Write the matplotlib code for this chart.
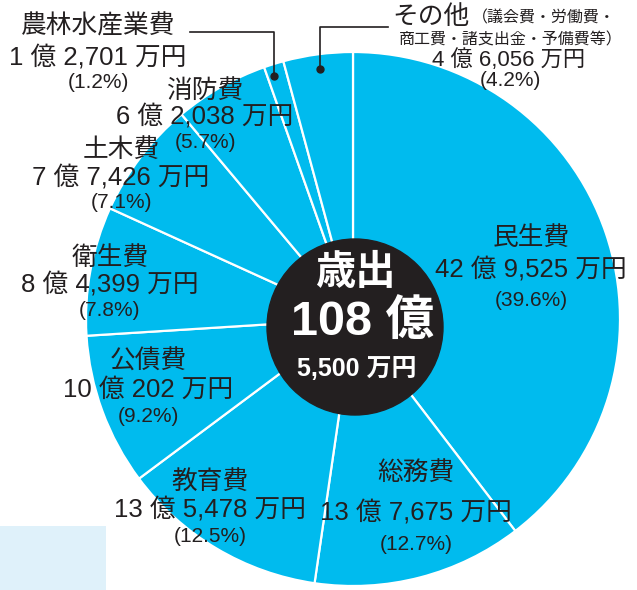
import matplotlib
matplotlib.use("Agg")
import matplotlib.pyplot as plt
from matplotlib.patches import Circle, Rectangle
from matplotlib import font_manager as fm

# ---- data -------------------------------------------------------------
categories = ["民生費", "総務費", "教育費", "公債費", "衛生費",
              "土木費", "消防費", "農林水産業費", "その他"]
oku = [42, 13, 13, 10, 8, 7, 6, 1, 4]
man = [9525, 7675, 5478, 202, 4399, 7426, 2038, 2701, 6056]
pct = [39.6, 12.7, 12.5, 9.2, 7.8, 7.1, 5.7, 1.2, 4.2]
total_oku, total_man = 108, 5500
other_note = ["（議会費・労働費・", "商工費・諸支出金・予備費等）"]

# ---- style ------------------------------------------------------------
W, H = 637, 590
BLUE = "#00bbee"
DARK = "#231f20"
TXT = "#231f20"
PALE = "#dff1fa"

names = {f.name for f in fm.fontManager.ttflist}
NUM = "Liberation Sans Narrow" if "Liberation Sans Narrow" in names else "Liberation Sans"
JP = "Noto Sans CJK JP"
plt.rcParams["font.family"] = [JP, "DejaVu Sans"]

# label layout (image pixel coords: x, y of title, amount, percent)
LAYOUT = {
    "民生費": (531, 238, 270, 301),
    "総務費": (416, 473, 513, 545),
    "教育費": (210, 482, 510, 537),
    "公債費": (148, 362, 390, 416),
    "衛生費": (110, 258, 285, 311),
    "土木費": (121, 150, 178, 203),
    "消防費": (205, 91, 117, 142),
    "農林水産業費": (98, 26, 58, 82),
}


def Y(y):
    return H - y


def amount(o, m):
    return f"{o} 億 {m:,} 万円"


fig = plt.figure(figsize=(W / 100, H / 100), dpi=100)
ax = fig.add_axes([0, 0, 1, 1])

cx, cy, R = 353, Y(319), 267
ax.pie(pct, startangle=90, counterclock=False, colors=[BLUE] * len(pct),
       center=(cx, cy), radius=R,
       wedgeprops=dict(edgecolor="white", linewidth=1.6))

ax.add_patch(Circle((355, Y(327)), 88, color=DARK, zorder=3))
ax.add_patch(Rectangle((0, 0), 106, Y(526), color=PALE, lw=0, zorder=0))

ax.set_xlim(0, W)
ax.set_ylim(0, H)
ax.set_aspect("equal")
ax.axis("off")

# category labels
for cat, o, m, p in zip(categories, oku, man, pct):
    if cat not in LAYOUT:
        continue
    x, yt, ya, yp = LAYOUT[cat]
    ax.text(x, Y(yt), cat, ha="center", va="center", fontsize=18.5,
            color=TXT, zorder=5)
    ax.text(x, Y(ya), amount(o, m), ha="center", va="center", fontsize=18.5,
            family=[NUM, JP], color=TXT, zorder=5)
    ax.text(x, Y(yp), f"({p}%)", ha="center", va="center", fontsize=15,
            family=[NUM, JP], color=TXT, zorder=5)

# その他 block
i = categories.index("その他")
ax.text(431, Y(17), "その他", ha="center", va="center", fontsize=18.5, color=TXT)
ax.text(472, Y(18), other_note[0], ha="left", va="center", fontsize=11.5,
        color=TXT)
ax.text(623, Y(40), other_note[1], ha="right", va="center", fontsize=11.5,
        color=TXT)
ax.text(509, Y(60), amount(oku[i], man[i]), ha="center", va="center",
        fontsize=16, family=[NUM, JP], color=TXT)
ax.text(510, Y(80), f"({pct[i]}%)", ha="center", va="center",
        fontsize=15, family=[NUM, JP], color=TXT)

# leader lines
ax.plot([190, 274, 274], [Y(32), Y(32), Y(76)], color=TXT, lw=1.2, zorder=6)
ax.plot([274], [Y(76)], "o", color=TXT, ms=5, zorder=6)
ax.plot([388, 320, 320], [Y(27), Y(27), Y(69)], color=TXT, lw=1.2, zorder=6)
ax.plot([320], [Y(69)], "o", color=TXT, ms=5, zorder=6)

# centre total
ax.text(355, Y(272), "歳出", ha="center", va="center", fontsize=29,
        fontweight="bold", color="white", zorder=6)
ax.text(363, Y(322), f"{total_oku} 億", ha="center", va="center",
        fontsize=35, family=[NUM, JP], fontweight="bold", color="white",
        zorder=6)
ax.text(357, Y(369), f"{total_man:,} 万円", ha="center", va="center",
        fontsize=18, family=[NUM, JP], fontweight="bold", color="white",
        zorder=6)

fig.savefig("out.png", dpi=100)
